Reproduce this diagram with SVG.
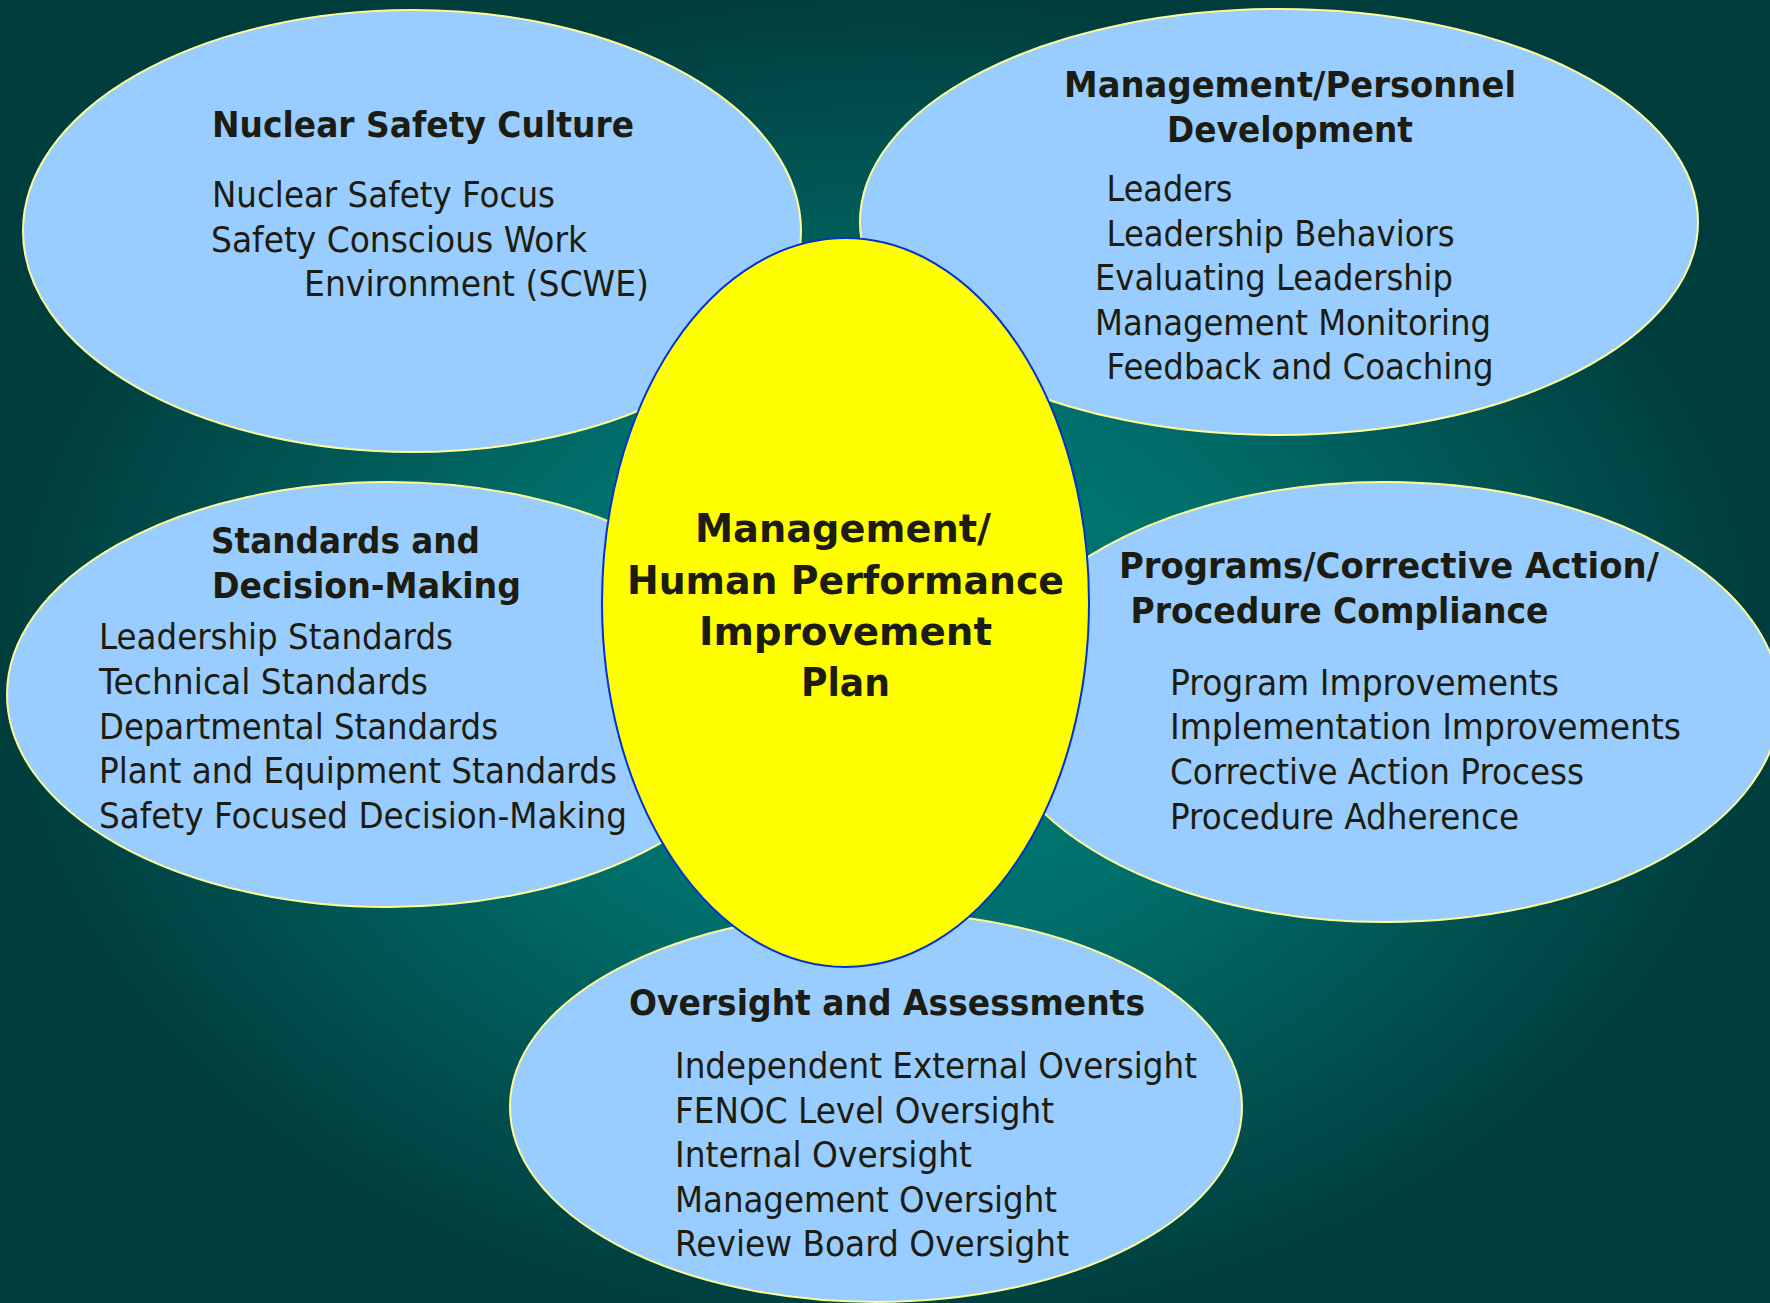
<svg xmlns="http://www.w3.org/2000/svg" width="1770" height="1303" viewBox="0 0 1770 1303">
<defs>
<radialGradient id="bg" cx="885" cy="660" r="885" gradientUnits="userSpaceOnUse" gradientTransform="translate(885 660) scale(1 0.76) translate(-885 -660)">
<stop offset="0" stop-color="#007a77"/>
<stop offset="0.4" stop-color="#00716d"/>
<stop offset="1" stop-color="#003d3d"/>
</radialGradient>
</defs>
<style>
.petal{fill:#99ccff;stroke:#ffff99;stroke-width:2}
.core{fill:#ffff00;stroke:#0033cc;stroke-width:2}
text{font-family:"DejaVu Sans",Verdana,sans-serif;fill:#1c1c10;font-size:35px}
.b{font-weight:bold}
.c{font-weight:bold;font-size:39px;text-anchor:middle}
</style>
<rect x="0" y="0" width="1770" height="1303" fill="url(#bg)"/>
<g id="connectors"/>
<g id="node-nuclear-safety-culture">
<ellipse class="petal" cx="412" cy="231" rx="389" ry="221"/>
<text class="b" x="212" y="137" textLength="422" lengthAdjust="spacingAndGlyphs">Nuclear Safety Culture</text>
<text x="212" y="207" textLength="343" lengthAdjust="spacingAndGlyphs">Nuclear Safety Focus</text>
<text x="211" y="252" textLength="376" lengthAdjust="spacingAndGlyphs">Safety Conscious Work</text>
<text x="304" y="296" textLength="345" lengthAdjust="spacingAndGlyphs">Environment (SCWE)</text>
</g>
<g id="node-management-personnel-development">
<ellipse class="petal" cx="1279" cy="222" rx="419" ry="213"/>
<text class="b" x="1064" y="97" textLength="452" lengthAdjust="spacingAndGlyphs">Management/Personnel</text>
<text class="b" x="1167" y="142" textLength="246" lengthAdjust="spacingAndGlyphs">Development</text>
<text x="1106.5" y="201" textLength="126" lengthAdjust="spacingAndGlyphs">Leaders</text>
<text x="1106.5" y="246" textLength="348" lengthAdjust="spacingAndGlyphs">Leadership Behaviors</text>
<text x="1095" y="290" textLength="358" lengthAdjust="spacingAndGlyphs">Evaluating Leadership</text>
<text x="1095" y="335" textLength="396" lengthAdjust="spacingAndGlyphs">Management Monitoring</text>
<text x="1106.5" y="379" textLength="387" lengthAdjust="spacingAndGlyphs">Feedback and Coaching</text>
</g>
<g id="node-standards-decision-making">
<ellipse class="petal" cx="388" cy="694.5" rx="381" ry="212.5"/>
<text class="b" x="211" y="553" textLength="269" lengthAdjust="spacingAndGlyphs">Standards and</text>
<text class="b" x="212" y="598" textLength="309" lengthAdjust="spacingAndGlyphs">Decision-Making</text>
<text x="99" y="649" textLength="354" lengthAdjust="spacingAndGlyphs">Leadership Standards</text>
<text x="99" y="694" textLength="329" lengthAdjust="spacingAndGlyphs">Technical Standards</text>
<text x="99" y="739" textLength="399" lengthAdjust="spacingAndGlyphs">Departmental Standards</text>
<text x="99" y="783" textLength="518" lengthAdjust="spacingAndGlyphs">Plant and Equipment Standards</text>
<text x="99" y="828" textLength="528" lengthAdjust="spacingAndGlyphs">Safety Focused Decision-Making</text>
</g>
<g id="node-programs-corrective-action">
<ellipse class="petal" cx="1385" cy="702" rx="395" ry="220"/>
<text class="b" x="1119" y="578" textLength="540" lengthAdjust="spacingAndGlyphs">Programs/Corrective Action/</text>
<text class="b" x="1130.5" y="623" textLength="418" lengthAdjust="spacingAndGlyphs">Procedure Compliance</text>
<text x="1170" y="695" textLength="389" lengthAdjust="spacingAndGlyphs">Program Improvements</text>
<text x="1170" y="739" textLength="511" lengthAdjust="spacingAndGlyphs">Implementation Improvements</text>
<text x="1170" y="784" textLength="414" lengthAdjust="spacingAndGlyphs">Corrective Action Process</text>
<text x="1170" y="829" textLength="349" lengthAdjust="spacingAndGlyphs">Procedure Adherence</text>
</g>
<g id="node-oversight-assessments">
<ellipse class="petal" cx="876" cy="1107" rx="366" ry="195"/>
<text class="b" x="629" y="1015" textLength="516" lengthAdjust="spacingAndGlyphs">Oversight and Assessments</text>
<text x="675" y="1078" textLength="522" lengthAdjust="spacingAndGlyphs">Independent External Oversight</text>
<text x="675" y="1123" textLength="379" lengthAdjust="spacingAndGlyphs">FENOC Level Oversight</text>
<text x="675" y="1167" textLength="297" lengthAdjust="spacingAndGlyphs">Internal Oversight</text>
<text x="675" y="1212" textLength="382" lengthAdjust="spacingAndGlyphs">Management Oversight</text>
<text x="675" y="1256" textLength="394" lengthAdjust="spacingAndGlyphs">Review Board Oversight</text>
</g>
<g id="node-center-plan">
<ellipse class="core" cx="845.5" cy="602.5" rx="243.5" ry="364.5"/>
<text class="c" x="843" y="542" textLength="296" lengthAdjust="spacingAndGlyphs">Management/</text>
<text class="c" x="845.5" y="594" textLength="437" lengthAdjust="spacingAndGlyphs">Human Performance</text>
<text class="c" x="845.5" y="645" textLength="293" lengthAdjust="spacingAndGlyphs">Improvement</text>
<text class="c" x="845.5" y="696" textLength="89" lengthAdjust="spacingAndGlyphs">Plan</text>
</g>
</svg>
